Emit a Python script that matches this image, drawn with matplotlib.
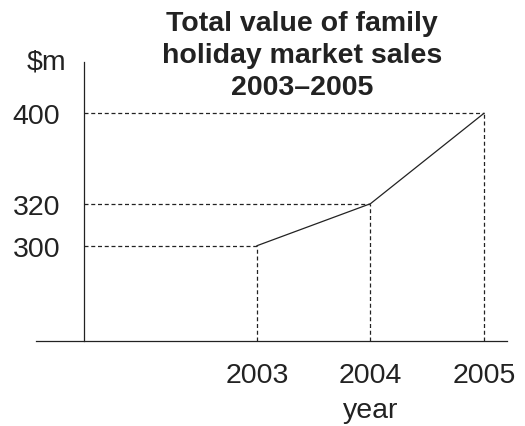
import numpy as np
import matplotlib.pyplot as plt

years = [2003, 2004, 2005]
sales = [300, 320, 400]
ytick_values = [300, 320, 400]
title = "Total value of family\nholiday market sales\n2003\u20132005"

# the original axis is not to scale: piecewise mapping of value -> height
scale_values = [0, 300, 320, 400, 450]
scale_heights = [0, 95.3, 137.3, 227.7, 279]

plt.rcParams["font.family"] = ["Liberation Sans", "DejaVu Sans"]
ink = "#222222"
fs = 20.5

W, H = 525, 427
fig = plt.figure(figsize=(W / 100, H / 100), dpi=100)
ax = fig.add_axes([36 / W, (H - 342) / H, (507 - 36) / W, (342 - 63) / H])


def forward(v):
    return np.interp(v, scale_values, scale_heights)


def inverse(h):
    return np.interp(h, scale_heights, scale_values)


ax.set_yscale("function", functions=(forward, inverse))
ax.set_xlim(2001.053, 2005.203)
ax.set_ylim(0, 450)
y_axis_x = 2001.476

ax.plot(years, sales, color=ink, lw=0.9)
dash = (0, (3.2, 2.2))
ax.hlines(sales, y_axis_x, years, colors=ink, lw=0.9, linestyles=[dash])
ax.vlines(years, 0, sales, colors=ink, lw=0.9, linestyles=[dash])

for side in ["top", "right"]:
    ax.spines[side].set_visible(False)
ax.spines["left"].set_position(("data", y_axis_x))
for side in ["left", "bottom"]:
    ax.spines[side].set_color(ink)
    ax.spines[side].set_linewidth(0.9)

ax.set_xticks(years)
ax.set_xticklabels([str(y) for y in years])
ax.set_yticks(ytick_values)
ax.set_yticklabels([str(v) for v in ytick_values])
ax.yaxis.set_minor_locator(plt.NullLocator())
ax.tick_params(axis="x", length=0, pad=15, labelsize=fs, labelcolor=ink)
ax.tick_params(axis="y", length=0, pad=17, labelsize=fs, labelcolor=ink)

ax.annotate("year", xy=(2004, 0), xycoords=("data", "axes fraction"),
            xytext=(0, -40), textcoords="offset points",
            ha="center", va="top", fontsize=fs, color=ink)

fig.text(46 / W, 1 - 63 / H, "$m", ha="center", va="center",
         fontsize=fs, color=ink)
fig.text(302 / W, 1 - 11 / H, title, ha="center", va="top",
         fontsize=fs, fontweight="bold", color=ink, linespacing=1.3)

fig.savefig("out.png", dpi=100)
